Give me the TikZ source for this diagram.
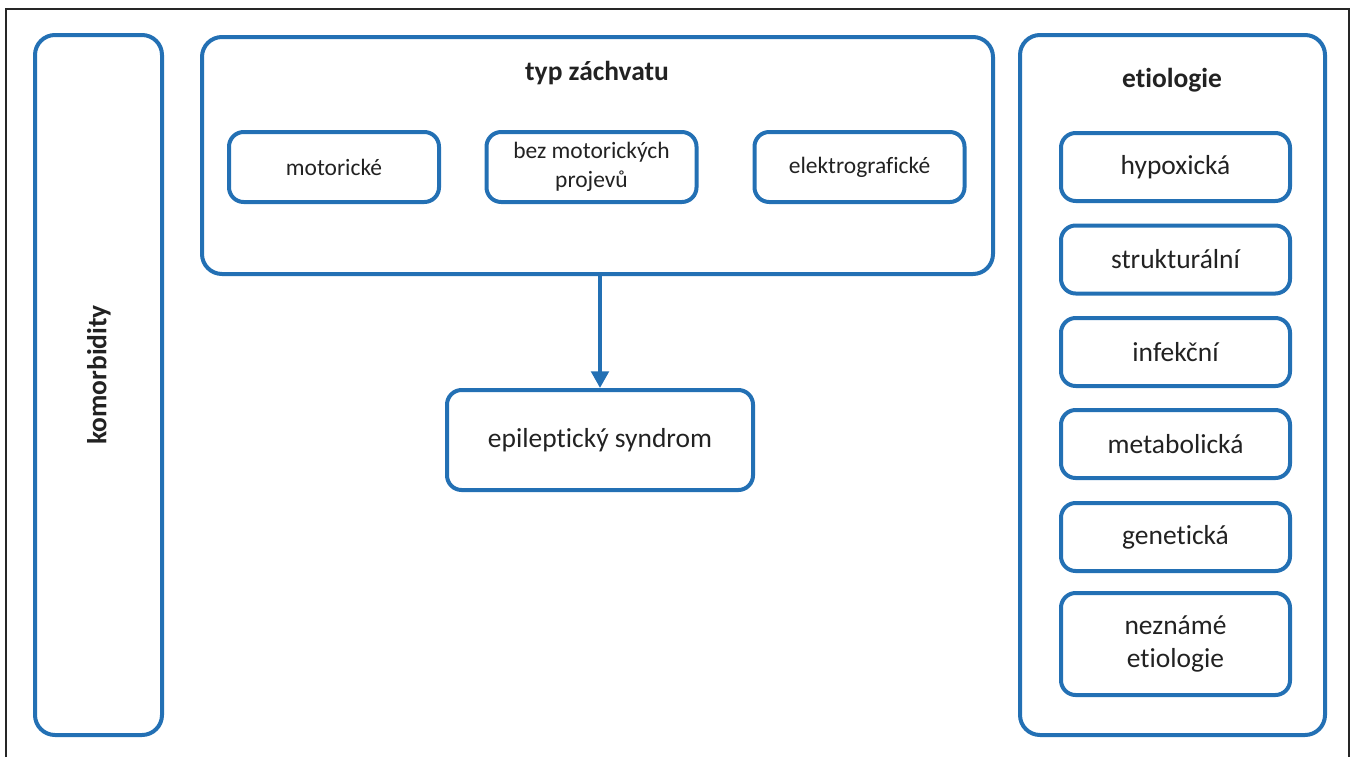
\documentclass[tikz,border=0pt]{standalone}
\usepackage{fontspec}
\setmainfont{Carlito}[Ligatures=CommonOff]
\usepackage{xcolor}
\usetikzlibrary{arrows.meta}
\definecolor{modra}{RGB}{35,112,180}
\definecolor{text}{RGB}{34,34,34}
\tikzset{
  ramec/.style={draw=modra, line width=3pt, rounded corners=15pt, inner sep=0pt},
  polozka/.style={draw=modra, line width=3pt, rounded corners=11pt, align=center, inner sep=0pt, text=text},
  velke/.style={font=\fontsize{20.6}{24.8}\selectfont},
  male/.style={font=\fontsize{17.6}{21.8}\selectfont},
  nadpis/.style={font=\fontsize{20.6}{24.8}\selectfont\bfseries, text=text},
  sipka/.style={draw=modra, line width=3pt, -{Triangle[length=12.5pt,width=13pt]}}
}
\begin{document}
\begin{tikzpicture}[x=0.75pt,y=-0.75pt]
\useasboundingbox (0,0) rectangle (1352,757);
\draw[black!85, line width=1pt] (6,757) -- (6,9) -- (1349,9) -- (1349,757);

\node[ramec, minimum width=95.25pt, minimum height=525pt] (komorb) at (98.5,385) {};
\node[nadpis, rotate=90] (komorbT) at (99,375) {komorbidity};

\node[ramec, minimum width=593.25pt, minimum height=177.75pt] (typ) at (597.5,155.5) {};
\node[nadpis] (typT) at (597,73) {typ záchvatu};
\node[polozka, male, minimum width=157.5pt, minimum height=52.5pt] (motor) at (334,167) {motorické};
\node[polozka, male, minimum width=157.5pt, minimum height=52.5pt] (bezmotor) at (591.5,167) {bez motorických\\projevů};
\node[polozka, male, minimum width=157.5pt, minimum height=52.5pt] (elektro) at (859.5,167) {elektrografické};

\node[polozka, velke, minimum width=229.5pt, minimum height=75pt] (syndrom) at (600,440) {epileptický syndrom};
\draw[sipka] (typ.south -| syndrom.north) -- (syndrom.north);

\node[ramec, minimum width=228.75pt, minimum height=525pt] (etio) at (1172.5,385) {};
\node[nadpis] (etioT) at (1172,80) {etiologie};
\node[polozka, velke, minimum width=171.75pt, minimum height=51pt] (hypox) at (1175.5,167) {hypoxická};
\node[polozka, velke, minimum width=171.75pt, minimum height=51pt] (strukt) at (1175.5,259.5) {strukturální};
\node[polozka, velke, minimum width=171.75pt, minimum height=51pt] (infek) at (1175.5,352) {infekční};
\node[polozka, velke, minimum width=171.75pt, minimum height=51pt] (metab) at (1175.5,444) {metabolická};
\node[polozka, velke, minimum width=171.75pt, minimum height=51pt] (genet) at (1175.5,537) {genetická};
\node[polozka, velke, minimum width=171.75pt, minimum height=76.5pt] (nezn) at (1175.5,644) {neznámé\\etiologie};

\end{tikzpicture}
\end{document}
